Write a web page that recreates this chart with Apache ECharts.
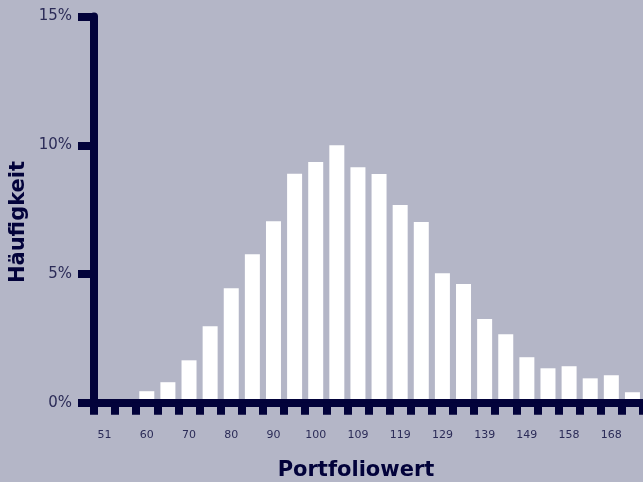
<!DOCTYPE html>
<html>
<head>
<meta charset="utf-8">
<script src="https://cdn.jsdelivr.net/npm/echarts@6/dist/echarts.min.js"></script>
<style>
  html, body { margin: 0; padding: 0; background: #b4b6c7; }
  #chart { width: 643px; height: 482px; }
</style>
</head>
<body>
<div id="chart"></div>
<script>
'use strict';

// bins of the portfolio value (every second one is labelled)
var categories = ['51', '56', '60', '65', '70', '75', '80', '85', '90', '95', '100', '104', '109',
  '114', '119', '124', '129', '134', '139', '144', '149', '153', '158', '163', '168', '173'];
// frequency in percent
var frequency = [0, 0, 0.45, 0.8, 1.65, 2.97, 4.45, 5.77, 7.05, 8.89, 9.35, 10.0, 9.15,
  8.88, 7.68, 7.02, 5.03, 4.61, 3.25, 2.66, 1.77, 1.34, 1.42, 0.95, 1.07, 0.41];
var yTicks = [0, 5, 10, 15];

var navy = '#02023a';
var labelColor = '#2b2b57';
var font = 'DejaVu Sans';

var chart = echarts.init(document.getElementById('chart'));

var option = {
  backgroundColor: '#b4b6c7',
  animation: false,
  grid: {
    left: 94,
    top: 16.5,
    width: 550,
    bottom: 79.2
  },
  xAxis: {
    type: 'category',
    data: categories,
    boundaryGap: true,
    z: 5,
    axisLine: {
      show: true,
      lineStyle: { color: navy, width: 8 }
    },
    axisTick: {
      show: true,
      alignWithLabel: false,
      interval: 0,
      length: 12,
      lineStyle: { color: navy, width: 8 }
    },
    axisLabel: {
      interval: 1,
      margin: 27,
      color: labelColor,
      fontFamily: font,
      fontSize: 11
    },
    splitLine: { show: false }
  },
  yAxis: {
    type: 'value',
    min: yTicks[0],
    max: yTicks[yTicks.length - 1],
    interval: 5,
    z: 5,
    axisLine: {
      show: true,
      lineStyle: { color: navy, width: 8 }
    },
    axisTick: {
      show: true,
      length: 16,
      lineStyle: { color: navy, width: 8 }
    },
    axisLabel: {
      margin: 22,
      color: labelColor,
      fontFamily: font,
      fontSize: 15,
      formatter: '{value}%'
    },
    splitLine: { show: false }
  },
  graphic: [
    {
      type: 'text',
      x: 356,
      y: 471,
      style: {
        text: 'Portfoliowert',
        fill: navy,
        font: 'bold 21px "DejaVu Sans"',
        align: 'center',
        verticalAlign: 'middle'
      }
    },
    {
      type: 'text',
      x: 18.5,
      y: 222,
      rotation: Math.PI / 2,
      style: {
        text: 'Häufigkeit',
        fill: navy,
        font: 'bold 21px "DejaVu Sans"',
        align: 'center',
        verticalAlign: 'middle'
      }
    }
  ],
  series: [
    {
      type: 'bar',
      data: frequency,
      barWidth: 15,
      itemStyle: { color: '#ffffff' }
    }
  ]
};

chart.setOption(option);
</script>
</body>
</html>
